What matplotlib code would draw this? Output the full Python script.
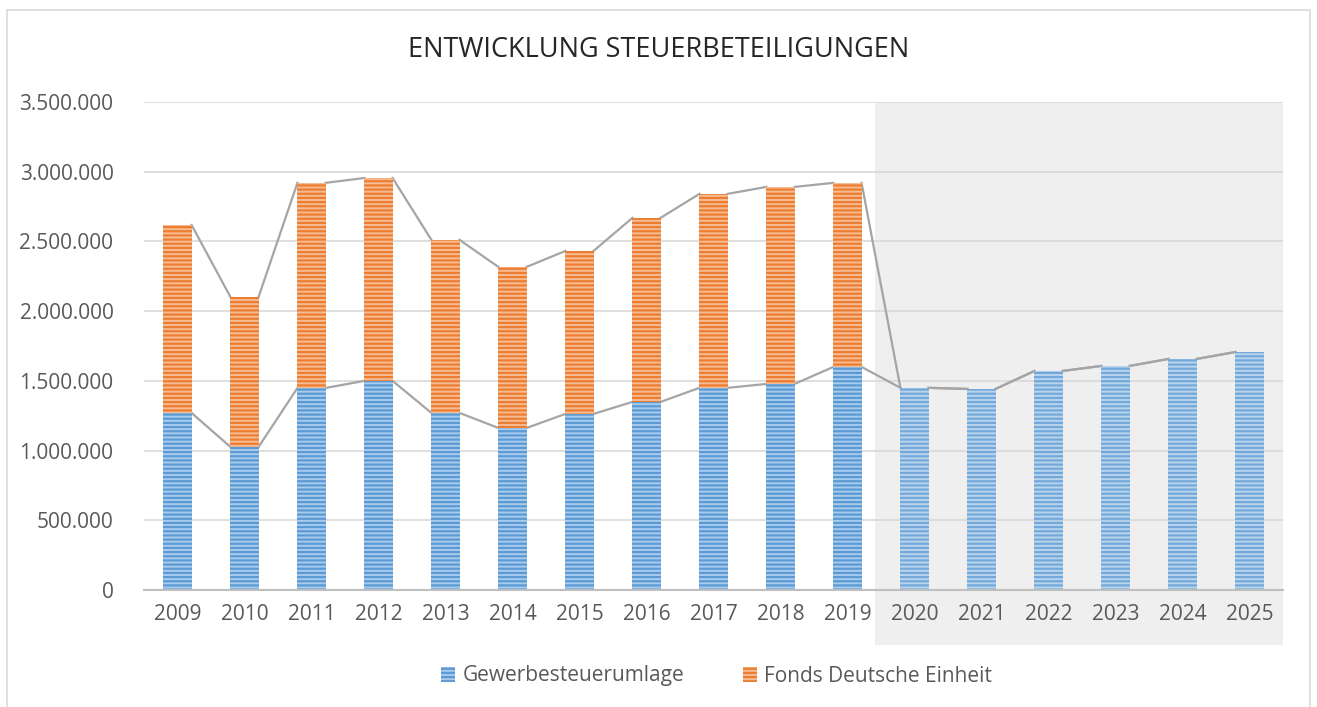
import matplotlib
matplotlib.use('Agg')
import matplotlib.pyplot as plt
from matplotlib.patches import Rectangle
from matplotlib.ticker import FuncFormatter
import numpy as np

# data
years = ['2009', '2010', '2011', '2012', '2013', '2014', '2015', '2016', '2017',
         '2018', '2019', '2020', '2021', '2022', '2023', '2024', '2025']
gewerbe = [1270000, 1026000, 1449000, 1500000, 1270000, 1162000, 1263000, 1349000, 1450000,
           1478000, 1600000, 1450000, 1442000, 1571000, 1607000, 1657000, 1707000]
totals = [2618000, 2102000, 2920000, 2955000, 2511000, 2317000, 2432000, 2669000, 2841000,
          2891000, 2920000]
fonds = [t - g for t, g in zip(totals, gewerbe)] + [0] * (len(years) - len(totals))

n_actual = len(totals)
BLUE = '#5B9BD5'
BLUE_LIGHT = '#A9CBEC'
ORANGE = '#ED7D31'
ORANGE_LIGHT = '#F6BC94'
GRAY_TXT = '#595959'

plt.rcParams['font.family'] = ['Open Sans', 'DejaVu Sans']
plt.rcParams['hatch.linewidth'] = 1.6

fig = plt.figure(figsize=(13.17, 7.07), dpi=100)
ax = fig.add_axes([144 / 1317, 1 - 590 / 707, (1283 - 144) / 1317, (590 - 102) / 707])

x = np.arange(len(years))
w = 0.42

# shaded forecast area (extends below the axis over the tick labels)
shade_start = n_actual - 0.59
shade = Rectangle((shade_start, -0.113), len(years) - 0.5 - shade_start, 1.113,
                  transform=ax.get_xaxis_transform(), facecolor='#EFEFEF',
                  edgecolor='none', clip_on=False, zorder=0)
ax.add_patch(shade)

bars_b = ax.bar(x, gewerbe, width=w, color=BLUE_LIGHT, edgecolor=BLUE, hatch='----',
                linewidth=0, zorder=3, label='Gewerbesteuerumlage')
bars_o = ax.bar(x, fonds, width=w, bottom=gewerbe, color=ORANGE_LIGHT, edgecolor=ORANGE,
                hatch='----', linewidth=0, zorder=3, label='Fonds Deutsche Einheit')
for b in list(bars_b)[n_actual:]:
    b.set_alpha(0.75)

# series lines connecting the bar tops
tops_total = [g + f for g, f in zip(gewerbe, fonds)]
for series in (gewerbe, tops_total):
    for i in range(len(years) - 1):
        ax.plot([x[i] + w / 2, x[i + 1] - w / 2], [series[i], series[i + 1]],
                color='#A5A5A5', linewidth=1.6, zorder=2)

ax.set_xlim(-0.5, len(years) - 0.5)
ax.set_ylim(0, 3500000)
ax.set_yticks(np.arange(0, 3500001, 500000))
ax.yaxis.set_major_formatter(FuncFormatter(lambda v, p: f'{int(v):,}'.replace(',', '.')))
ax.set_xticks(x)
ax.set_xticklabels(years)
ax.grid(axis='y', color='#D9D9D9', linewidth=1.2, zorder=1)
ax.set_axisbelow(True)
for s in ['top', 'right', 'left']:
    ax.spines[s].set_visible(False)
ax.spines['bottom'].set_color('#BFBFBF')
ax.spines['bottom'].set_linewidth(1.5)
ax.spines['bottom'].set_zorder(4)
ax.tick_params(axis='both', length=0, labelsize=15, labelcolor=GRAY_TXT)
ax.tick_params(axis='y', pad=22)
ax.tick_params(axis='x', pad=10)
ax.patch.set_alpha(0)

fig.text(0.5, 1 - 50 / 707, 'ENTWICKLUNG STEUERBETEILIGUNGEN', ha='center', va='center',
         fontsize=19.5, color='#262626')

leg = fig.legend(handles=[bars_b, bars_o], loc='center', bbox_to_anchor=(0.544, 1 - 676 / 707),
                 ncol=2, frameon=False, fontsize=15, handlelength=0.7, handleheight=0.75,
                 handletextpad=0.35, columnspacing=2.8)
for t in leg.get_texts():
    t.set_color(GRAY_TXT)

# chart border
fig.patches.append(Rectangle((7 / 1317, -0.01), 1303 / 1317, 1 - 10 / 707 + 0.01,
                             transform=fig.transFigure, fill=False, edgecolor='#D9D9D9',
                             linewidth=1.2))

fig.savefig('out.png', dpi=100)
